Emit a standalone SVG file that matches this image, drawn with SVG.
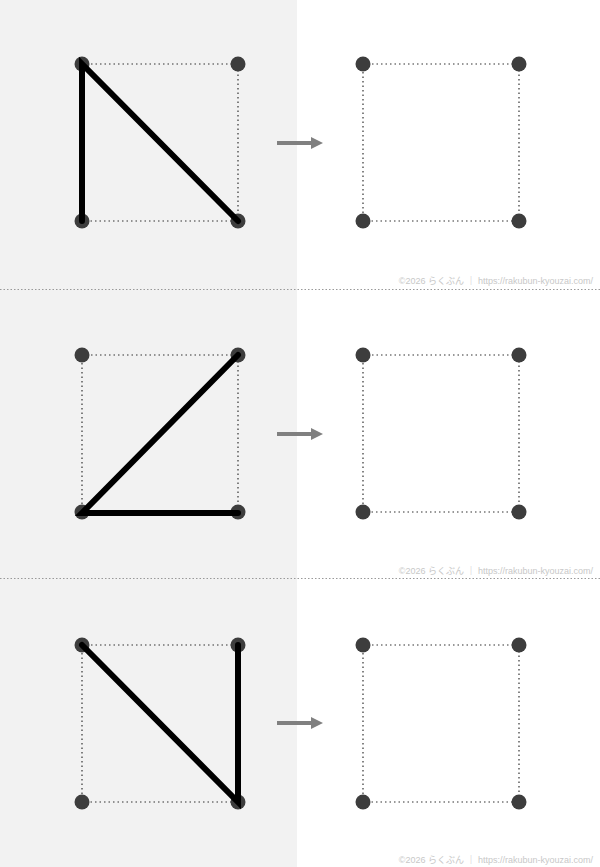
<svg xmlns="http://www.w3.org/2000/svg" width="600" height="867" viewBox="0 0 600 867">
<style>
.sq{fill:none;stroke:#333;stroke-width:1.2;stroke-dasharray:1.5,3}
.dot{fill:#3d3d3d}
.ln{stroke:#000;stroke-width:6;stroke-linecap:round;fill:none}
.arr{stroke:#808080;stroke-width:4;fill:none}
.sep{stroke:#999;stroke-width:1;stroke-dasharray:1.5,2}
.cr{font-family:"Liberation Sans","Noto Sans CJK JP",sans-serif;font-size:9px;fill:#c8c8c8;text-anchor:end}
</style>
<defs>
<marker id="ah" viewBox="0 0 10 10" refX="0" refY="5" markerWidth="3" markerHeight="3.5" orient="auto" markerUnits="strokeWidth">
<path d="M0,0 L10,5 L0,10 z" fill="#808080"/>
</marker>
<g id="grid">
<rect class="sq" x="82" y="0" width="156" height="157"/>
<circle class="dot" cx="82" cy="0" r="7.5"/>
<circle class="dot" cx="238" cy="0" r="7.5"/>
<circle class="dot" cx="82" cy="157" r="7.5"/>
<circle class="dot" cx="238" cy="157" r="7.5"/>
</g>
</defs>
<rect x="0" y="0" width="600" height="867" fill="#fff"/>
<rect x="0" y="0" width="297" height="867" fill="#f2f2f2"/>
<g id="separators">
<line class="sep" x1="0" y1="289.5" x2="600" y2="289.5"/>
<line class="sep" x1="0" y1="578.5" x2="600" y2="578.5"/>
</g>
<g id="panel1">
<use href="#grid" x="0" y="64"/>
<use href="#grid" x="281" y="64"/>
</g>
<g id="panel2">
<use href="#grid" x="0" y="355"/>
<use href="#grid" x="281" y="355"/>
</g>
<g id="panel3">
<use href="#grid" x="0" y="645"/>
<use href="#grid" x="281" y="645"/>
</g>
<g id="connectors">
<path class="ln" d="M82,221 L82,64 L238,221"/>
<path class="ln" d="M238,355 L82,513 L238,513"/>
<path class="ln" d="M82,645 L238,802 L238,645"/>
<line class="arr" x1="277" y1="143" x2="311" y2="143" marker-end="url(#ah)"/>
<line class="arr" x1="277" y1="434" x2="311" y2="434" marker-end="url(#ah)"/>
<line class="arr" x1="277" y1="723" x2="311" y2="723" marker-end="url(#ah)"/>
</g>
<g id="credits">
<text class="cr" x="593" y="284">©2026 らくぶん ｜ https://rakubun-kyouzai.com/</text>
<text class="cr" x="593" y="574">©2026 らくぶん ｜ https://rakubun-kyouzai.com/</text>
<text class="cr" x="593" y="863">©2026 らくぶん ｜ https://rakubun-kyouzai.com/</text>
</g>
</svg>
